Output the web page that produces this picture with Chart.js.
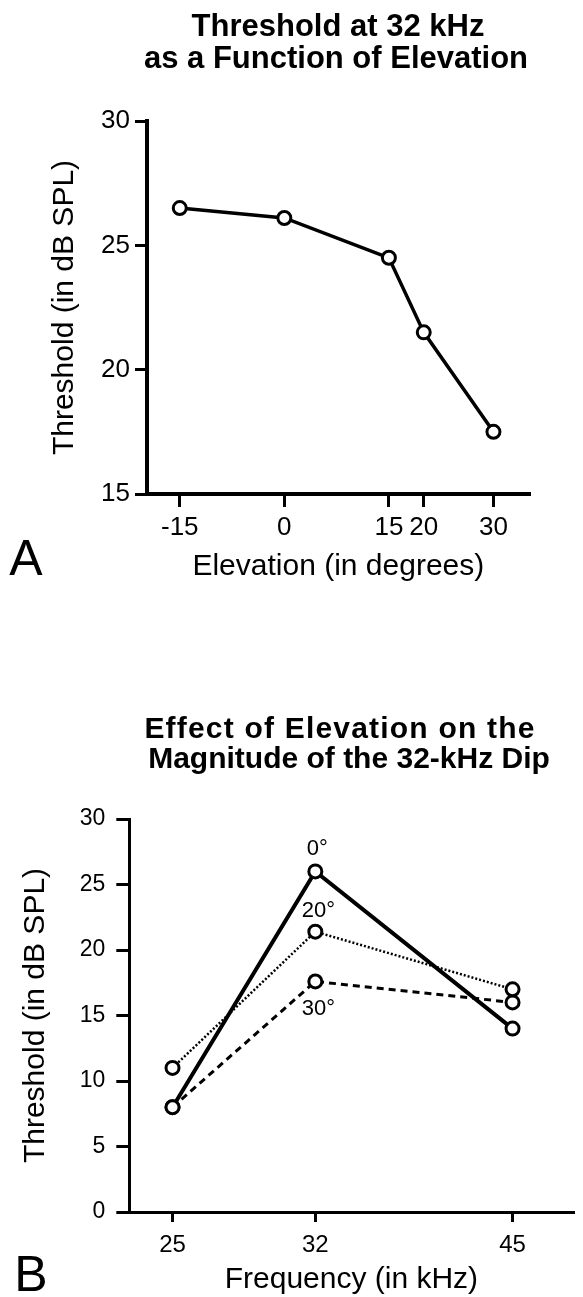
<!DOCTYPE html>
<html>
<head>
<meta charset="utf-8">
<script src="https://cdn.jsdelivr.net/npm/chart.js@4.4.1/dist/chart.umd.min.js"></script>
<style>
  html, body { margin: 0; padding: 0; background: #fff; overflow: hidden; }
  body { width: 583px; height: 1297px; position: relative; font-family: "Liberation Sans", Arial, sans-serif; color: #000; }
  canvas { position: absolute; left: 0; }
  #chartA { top: 0; }
  #chartB { top: 640px; }
  .title { position: absolute; transform: translate(-50%, -50%); white-space: nowrap; font-weight: bold; font-size: 31px; line-height: 1; }
  .panel { position: absolute; transform: translate(-50%, -50%); font-size: 50px; line-height: 1; }
</style>
</head>
<body>
<canvas id="chartA" width="583" height="640"></canvas>
<canvas id="chartB" width="583" height="657"></canvas>

<div class="title" style="left:338px; top:25px;">Threshold at 32 kHz</div>
<div class="title" style="left:336px; top:57px;">as a Function of Elevation</div>
<div class="panel" style="left:26px; top:558px;">A</div>

<div class="title" style="left:340px; top:728px; font-size:30px; letter-spacing:1.2px;">Effect of Elevation on the</div>
<div class="title" style="left:349px; top:758px; font-size:30px;">Magnitude of the 32-kHz Dip</div>
<div class="panel" style="left:31px; top:1274px;">B</div>

<script>
// panel A: threshold at 32 kHz vs elevation
const elevations = [-15, 0, 15, 20, 30];
const thresholdAt32 = [26.5, 26.1, 24.5, 21.5, 17.5];
const elevationTicks = [-15, 0, 15, 20, 30];

// panel B: threshold vs frequency, one line per elevation
const frequencies = [25, 32, 45];
const frequencyTicks = [25, 32, 45];
const seriesNames = ["0°", "20°", "30°"];
const elev0 = [8, 26, 14];
const elev20 = [11, 21.4, 17];
const elev30 = [8, 17.6, 16];

const FONT = "'Liberation Sans', Arial, sans-serif";
Chart.defaults.font.family = FONT;
Chart.defaults.color = "#000";

function toPoints(xs, ys) {
  return xs.map((x, i) => ({ x: x, y: ys[i] }));
}

function axisGrid(tickLength, width) {
  return {
    display: true,
    drawOnChartArea: false,
    drawTicks: true,
    tickLength: tickLength,
    lineWidth: width,
    color: "#000",
  };
}

const pointStyle = {
  pointRadius: 6.5,
  pointBorderWidth: 3,
  pointBackgroundColor: "#fff",
  pointBorderColor: "#000",
};

new Chart(document.getElementById("chartA"), {
  type: "line",
  data: {
    datasets: [
      {
        data: toPoints(elevations, thresholdAt32),
        borderColor: "#000",
        borderWidth: 3.5,
        tension: 0,
        ...pointStyle,
      },
    ],
  },
  options: {
    responsive: false,
    animation: false,
    devicePixelRatio: 1,
    layout: { padding: { left: 48, right: 53.3, top: 121, bottom: 57 } },
    plugins: { legend: { display: false }, tooltip: { enabled: false } },
    scales: {
      x: {
        type: "linear",
        min: -19.7,
        max: 35.2,
        afterBuildTicks: (axis) => {
          axis.ticks = elevationTicks.map((v) => ({ value: v }));
        },
        afterFit: (axis) => {
          axis.height = 89;
        },
        grid: axisGrid(13, 3),
        border: { display: true, color: "#000", width: 4 },
        ticks: { font: { size: 26 }, padding: 5, maxRotation: 0, callback: (v) => String(v) },
        title: {
          display: true,
          text: "Elevation (in degrees)",
          font: { size: 30, lineHeight: 1.1 },
          padding: 0,
        },
      },
      y: {
        min: 15,
        max: 30,
        ticks: { stepSize: 5, font: { size: 26 }, padding: 5 },
        afterFit: (axis) => {
          axis.width = 99;
        },
        grid: axisGrid(12, 3),
        border: { display: true, color: "#000", width: 4 },
        title: {
          display: true,
          text: "Threshold (in dB SPL)",
          font: { size: 30, lineHeight: 1.1 },
          padding: 0,
        },
      },
    },
  },
});

// writes 0°, 20°, 30° beside the 32 kHz points
const labelOffsets = [
  [2, -22],
  [3, -21],
  [3, 27],
];
const seriesLabels = {
  id: "seriesLabels",
  afterDatasetsDraw(chart) {
    const ctx = chart.ctx;
    ctx.save();
    ctx.font = "22px " + FONT;
    ctx.fillStyle = "#000";
    ctx.textAlign = "center";
    ctx.textBaseline = "middle";
    chart.data.datasets.forEach((ds, i) => {
      const pt = chart.getDatasetMeta(i).data[1];
      ctx.fillText(seriesNames[i], pt.x + labelOffsets[i][0], pt.y + labelOffsets[i][1]);
    });
    ctx.restore();
  },
};

new Chart(document.getElementById("chartB"), {
  type: "line",
  data: {
    datasets: [
      {
        label: seriesNames[0],
        data: toPoints(frequencies, elev0),
        borderColor: "#000",
        borderWidth: 4,
        ...pointStyle,
      },
      {
        label: seriesNames[1],
        data: toPoints(frequencies, elev20),
        borderColor: "#000",
        borderWidth: 2.5,
        borderDash: [2, 2],
        ...pointStyle,
      },
      {
        label: seriesNames[2],
        data: toPoints(frequencies, elev30),
        borderColor: "#000",
        borderWidth: 3,
        borderDash: [7, 5],
        ...pointStyle,
      },
    ],
  },
  options: {
    responsive: false,
    animation: false,
    devicePixelRatio: 1,
    layout: { padding: { left: 19, right: 0, top: 179, bottom: 0.5 } },
    plugins: { legend: { display: false }, tooltip: { enabled: false } },
    scales: {
      x: {
        type: "logarithmic",
        min: 23.2,
        max: 50,
        afterBuildTicks: (axis) => {
          axis.ticks = frequencyTicks.map((v) => ({ value: v }));
        },
        afterFit: (axis) => {
          axis.height = 84.5;
        },
        grid: axisGrid(10, 3),
        border: { display: true, color: "#000", width: 3 },
        ticks: { font: { size: 24 }, padding: 9, maxRotation: 0, callback: (v) => String(v) },
        title: {
          display: true,
          text: "Frequency (in kHz)",
          font: { size: 30, lineHeight: 1.1 },
          padding: 0,
        },
      },
      y: {
        min: 0,
        max: 30,
        ticks: { stepSize: 5, font: { size: 23 }, padding: 11 },
        afterFit: (axis) => {
          axis.width = 110.3;
        },
        grid: axisGrid(13, 3),
        border: { display: true, color: "#000", width: 3 },
        title: {
          display: true,
          text: "Threshold (in dB SPL)",
          font: { size: 30, lineHeight: 1.1 },
          padding: 0,
        },
      },
    },
  },
  plugins: [seriesLabels],
});
</script>
</body>
</html>
